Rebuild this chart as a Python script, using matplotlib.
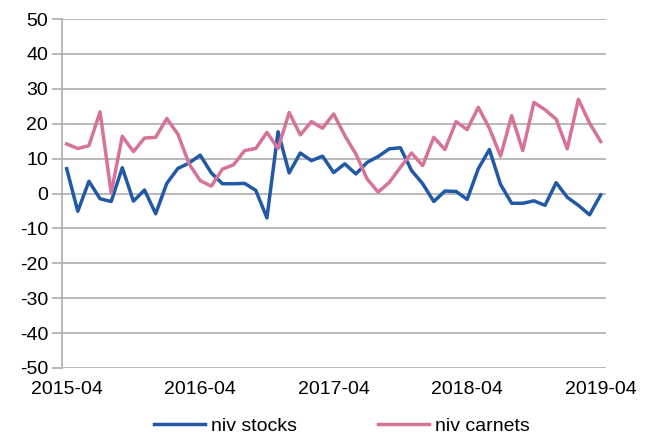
import matplotlib
matplotlib.use("Agg")
import matplotlib.pyplot as plt
import numpy as np

# Monthly data, 2015-04 .. 2019-04
tick_labels = ['2015-04', '2016-04', '2017-04', '2018-04', '2019-04']

niv_stocks = [7.1, -5.1, 3.5, -1.5, -2.3, 7.4, -2.2, 1.0, -5.8, 2.9,
              7.2, 8.7, 11.0, 5.9, 2.8, 2.8, 2.9, 0.9, -7.0, 17.7,
              5.9, 11.6, 9.4, 10.7, 6.0, 8.5, 5.6, 8.9, 10.6, 12.8,
              13.1, 6.6, 2.8, -2.3, 0.7, 0.6, -1.7, 7.1, 12.6, 2.6,
              -2.8, -2.8, -2.1, -3.4, 3.1, -1.1, -3.4, -6.1, -0.4]

niv_carnets = [14.2, 12.9, 13.7, 23.4, 0.2, 16.4, 12.0, 15.9, 16.1, 21.5,
               17.0, 8.5, 3.7, 2.1, 7.0, 8.2, 12.3, 12.9, 17.5, 12.9,
               23.2, 16.8, 20.6, 18.7, 22.8, 16.6, 11.3, 4.2, 0.4, 3.2,
               7.5, 11.6, 8.0, 16.1, 12.6, 20.6, 18.3, 24.7, 18.7, 10.7,
               22.3, 12.3, 26.1, 24.0, 21.3, 12.8, 27.0, 20.2, 14.9]

plt.rcParams['font.family'] = ['Liberation Sans', 'DejaVu Sans']
plt.rcParams['axes.unicode_minus'] = False

fig = plt.figure(figsize=(6.51, 4.37), dpi=100)
ax = fig.add_axes([62 / 651, 1 - 368 / 437, (606 - 62) / 651, (368 - 19) / 437])

x = np.arange(len(niv_stocks))
ax.plot(x, niv_stocks, color='#2159A6', lw=2.5, label='niv stocks')
ax.plot(x, niv_carnets, color='#D5739A', lw=2.5, label='niv carnets')

ax.set_xlim(-0.42, 48.48)
ax.set_ylim(-50, 50)
ax.set_yticks(np.arange(-50, 51, 10))
ax.set_xticks([0, 12, 24, 36, 48])
ax.set_xticklabels(tick_labels)

ax.yaxis.grid(True, color='#B3B3B3', lw=1.3)
ax.set_axisbelow(True)
for s in ['top', 'right', 'bottom']:
    ax.spines[s].set_visible(False)
ax.spines['left'].set_color('#B3B3B3')
ax.spines['left'].set_linewidth(1.3)
ax.tick_params(axis='y', length=7, color='#B3B3B3', width=1.3, labelsize=14, pad=3)
ax.tick_params(axis='x', length=0, labelsize=14, pad=9)

fig.legend(loc='lower center', bbox_to_anchor=(0.525, -0.035), ncol=2, frameon=False,
           fontsize=14, handlelength=2.6, columnspacing=4.2, handletextpad=0.3)

fig.savefig('out.png', dpi=100)
